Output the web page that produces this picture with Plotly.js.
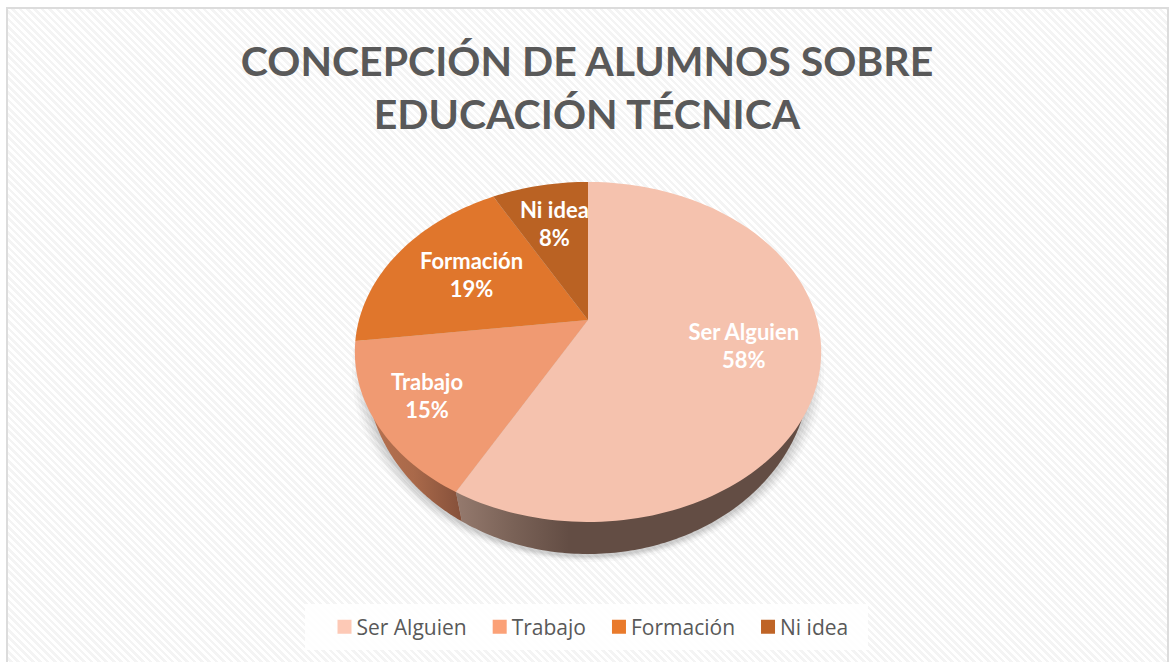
<!DOCTYPE html>
<html>
<head>
<meta charset="utf-8">
<script src="https://cdn.plot.ly/plotly-3.0.1.min.js"></script>
<style>
html,body{margin:0;padding:0;background:#fff;overflow:hidden;width:1169px;height:662px}
#frame{position:absolute;left:6px;top:7px;width:1159px;height:670px;border:2px solid #dcdcdc;
background:repeating-linear-gradient(45deg,#ffffff 0,#ffffff 2.6px,#f4f4f4 2.6px,#f4f4f4 5.2px)}
#chart{position:absolute;left:0;top:0;width:1169px;height:662px}
</style>
</head>
<body>
<div id="frame"></div>
<div id="chart"></div>
<script>
const categories = ["Ser Alguien", "Trabajo", "Formación", "Ni idea"];
const percents = [58, 15, 19, 8];
const sliceColors = ["#F5C2AE", "#F09A72", "#E0762C", "#BA6223"];
const legendColors = ["#FDC9B6", "#FBA177", "#E97A2B", "#BF6426"];
const labelRadius = [0.68, 0.78, 0.60, 0.66];

// Perspective view of the pie disc, expressed in page pixels
const apex = {x: 588, y: 320}, tilt = 0.188, rX = 229, rY = 164;
function project(frac, r) {
  const t = 2 * Math.PI * frac, cx = r * Math.sin(t), cy = r * Math.cos(t), d = 1 + tilt * cy;
  return [apex.x + rX * cx / d, apex.y - rY * cy / d];
}
const total = percents.reduce((a, b) => a + b, 0);
let acc = 0;
const wedges = percents.map(v => { const s = acc / total; acc += v; return [s, acc / total]; });

function arc(f0, f1, r) {
  const n = Math.max(2, Math.round((f1 - f0) * 240)), pts = [];
  for (let i = 0; i <= n; i++) pts.push(project(f0 + (f1 - f0) * i / n, r));
  return pts;
}
function ellipse(cx, cy, a, b, t0, t1) {
  const pts = [];
  for (let i = 0; i <= 120; i++) {
    const t = t0 + (t1 - t0) * i / 120;
    pts.push([cx + a * Math.cos(t), cy + b * Math.sin(t)]);
  }
  return pts;
}
const xs = p => p.map(q => q[0]), ys = p => p.map(q => q[1]);

const traces = [];
// soft shadow
[[236, 190, 0.03], [233, 188, 0.04], [230, 187, 0.05], [227, 186, 0.06], [224, 185, 0.07]].forEach(s => {
  const e = ellipse(588, 372, s[0], s[1], 0, 2 * Math.PI);
  traces.push({type: "scatter", mode: "none", x: xs(e), y: ys(e), fill: "toself",
    fillcolor: "rgba(60,60,60," + s[2] + ")", showlegend: false, hoverinfo: "skip"});
});
// disc edge
const splitTop = project(wedges[0][1], 1);
const rimCx = 588, rimCy = 370, rimA = 222, rimB = 184;
const splitT = Math.acos((splitTop[0] + 6 - rimCx) / rimA);
const serRim = ellipse(rimCx, rimCy, rimA, rimB, splitT, 0).concat([splitTop]);
const trabRim = ellipse(rimCx, rimCy, rimA, rimB, splitT, Math.PI).concat([splitTop]);
traces.push({type: "scatter", mode: "none", x: xs(serRim), y: ys(serRim), fill: "toself", showlegend: false, hoverinfo: "skip",
  fillgradient: {type: "horizontal", colorscale: [[0, "#957A6E"], [0.16, "#7A6257"], [0.32, "#634D44"], [1, "#634D44"]]}});
traces.push({type: "scatter", mode: "none", x: xs(trabRim), y: ys(trabRim), fill: "toself", showlegend: false, hoverinfo: "skip",
  fillgradient: {type: "horizontal", colorscale: [[0, "#B87250"], [0.5, "#A9694A"], [1, "#85503A"]]}});
// slices
wedges.forEach((w, i) => {
  const p = [[apex.x, apex.y]].concat(arc(w[0], w[1], 1), [[apex.x, apex.y]]);
  traces.push({type: "scatter", mode: "none", x: xs(p), y: ys(p), fill: "toself", fillcolor: sliceColors[i],
    name: categories[i], showlegend: false, hoverinfo: "name"});
});
// data labels
const labelPts = wedges.map((w, i) => project((w[0] + w[1]) / 2, labelRadius[i]));
traces.push({type: "scatter", mode: "text", x: xs(labelPts), y: ys(labelPts),
  text: categories.map((c, i) => c + "<br>" + percents[i] + "%"), textposition: "middle center",
  textfont: {family: "Lato, Carlito, sans-serif", size: 22, color: "#ffffff", weight: 700},
  showlegend: false, hoverinfo: "skip"});
// legend entries
categories.forEach((c, i) => {
  traces.push({type: "scatter", mode: "markers", x: [null], y: [null], name: c,
    marker: {symbol: "square", size: 14, color: legendColors[i]}, hoverinfo: "skip"});
});

const layout = {
  width: 1169, height: 662,
  margin: {l: 0, r: 0, t: 0, b: 0},
  paper_bgcolor: "rgba(0,0,0,0)", plot_bgcolor: "rgba(0,0,0,0)",
  hovermode: "closest",
  title: {text: "CONCEPCIÓN DE ALUMNOS SOBRE<br>EDUCACIÓN TÉCNICA",
    x: 587 / 1169, xanchor: "center", y: 1 - 76 / 662, yanchor: "middle",
    font: {family: "Lato, Carlito, sans-serif", size: 41, color: "#595959", weight: 700}},
  xaxis: {range: [0, 1169], visible: false, fixedrange: true},
  yaxis: {range: [662, 0], visible: false, fixedrange: true},
  shapes: [{type: "rect", xref: "x", yref: "y", x0: 305, x1: 868, y0: 604, y1: 650,
    fillcolor: "rgba(255,255,255,0.9)", line: {width: 0}, layer: "below"}],
  legend: {orientation: "h", x: 585 / 1169, xanchor: "center", y: 1 - 627 / 662, yanchor: "middle",
    bgcolor: "rgba(0,0,0,0)", font: {family: "'Open Sans', sans-serif", size: 21, color: "#595959"},
    traceorder: "normal", itemclick: false, itemdoubleclick: false}
};
Plotly.newPlot("chart", traces, layout, {displayModeBar: false}).then(() => {
  // tighten the swatch-to-text gap of the legend
  document.querySelectorAll("#chart .legend .legendpoints").forEach(g => g.setAttribute("transform", "translate(8,0)"));
});
</script>
</body>
</html>
